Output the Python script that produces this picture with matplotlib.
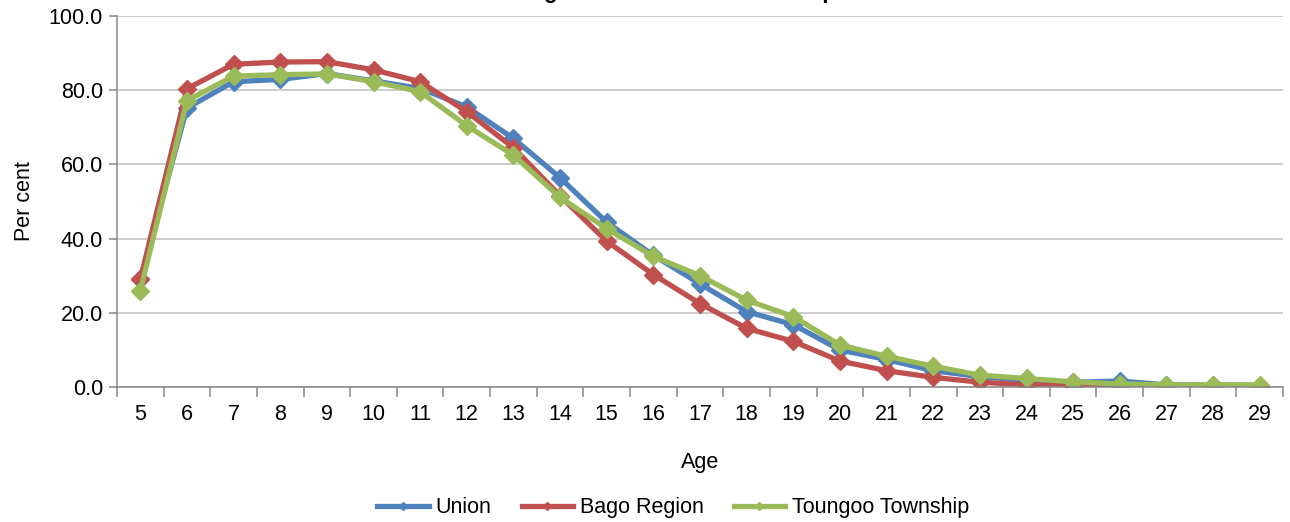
import matplotlib
matplotlib.use("Agg")
import matplotlib.pyplot as plt
import numpy as np
from matplotlib.ticker import FormatStrFormatter, MultipleLocator

plt.rcParams["font.family"] = ["Liberation Sans", "DejaVu Sans"]

ages = list(range(5, 30))
union = [29.0, 75.2, 82.3, 82.9, 84.5, 82.5, 80.5, 75.5, 67.0, 56.4, 44.4, 35.5, 27.8,
         20.3, 16.8, 10.0, 7.4, 4.4, 2.8, 1.8, 1.3, 1.6, 0.6, 0.5, 0.4]
bago = [29.0, 80.4, 87.0, 87.6, 87.7, 85.5, 82.3, 74.2, 64.5, 51.5, 39.3, 30.3, 22.5,
        15.8, 12.3, 7.0, 4.4, 2.6, 1.3, 0.6, 0.4, 0.4, 0.4, 0.4, 0.3]
toungoo = [26.0, 77.2, 83.8, 84.2, 84.4, 82.3, 79.6, 70.4, 62.5, 51.1, 42.7, 35.2, 30.0,
           23.4, 19.0, 11.3, 8.3, 5.6, 3.2, 2.3, 1.4, 0.8, 0.6, 0.6, 0.6]
series = [("Union", union, "#4F81BD"),
          ("Bago Region", bago, "#C0504D"),
          ("Toungoo Township", toungoo, "#9BBB59")]

fs = 15.5

fig = plt.figure(figsize=(12.9, 5.22), dpi=100)
ax = fig.add_axes([0.0907, 0.2586, 0.9039, 0.7107])

for name, vals, color in series:
    ax.plot(ages, vals, color=color, lw=3.8, marker="D", ms=9, mec=color,
            label=name, solid_joinstyle="round")

ax.set_xlim(4.5, 29.5)
ax.set_ylim(0, 100)
ax.yaxis.set_major_locator(MultipleLocator(20))
ax.yaxis.set_major_formatter(FormatStrFormatter("%.1f"))
ax.grid(axis="y", color="#BFBFBF", lw=1.1)
ax.set_axisbelow(True)

ax.set_xticks(ages)
ax.set_xticks(np.arange(4.5, 30, 1), minor=True)
ax.tick_params(axis="x", which="major", length=0, pad=12, labelsize=fs)
ax.tick_params(axis="x", which="minor", length=7, color="#868686", width=1.1)
ax.tick_params(axis="y", length=6, color="#868686", width=1.1, labelsize=fs, pad=4)

for s in ["top", "right"]:
    ax.spines[s].set_visible(False)
for s in ["left", "bottom"]:
    ax.spines[s].set_color("#868686")
    ax.spines[s].set_linewidth(1.1)

ax.set_xlabel("Age", fontsize=fs, labelpad=20)
ax.set_ylabel("Per cent", fontsize=fs, labelpad=10)

# chart title sits mostly above the visible area, as in the source image
fig.text(0.5, 1.003, "Attending School Rate for Township", ha="center", va="baseline",
         fontsize=16, fontweight="bold")

ax.legend(loc="center", bbox_to_anchor=(0.477, -0.326), ncol=3, frameon=False,
          fontsize=fs, handlelength=2.4, markerscale=0.45, columnspacing=1.4,
          handletextpad=0.3)

fig.savefig("out.png", dpi=100)
